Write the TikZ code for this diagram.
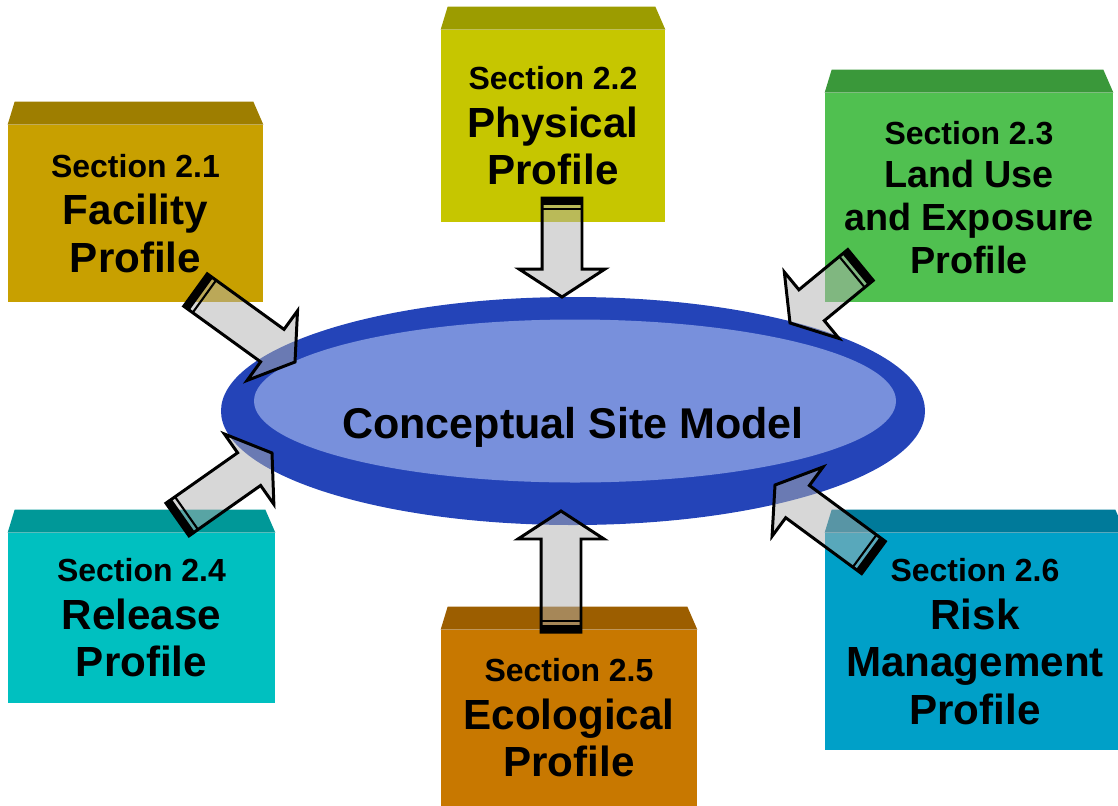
\documentclass[tikz,border=0pt]{standalone}
\usepackage[rgb]{xcolor}
\usepackage{fontspec}
\setmainfont{Liberation Sans}
\usepackage{tikz}
\usetikzlibrary{calc,shapes.geometric}

\definecolor{facilityfront}{HTML}{C8A000}
\definecolor{facilitytop}{HTML}{9E7E00}
\definecolor{physicalfront}{HTML}{C6C600}
\definecolor{physicaltop}{HTML}{9C9C00}
\definecolor{landusefront}{HTML}{50C050}
\definecolor{landusetop}{HTML}{3A983A}
\definecolor{releasefront}{HTML}{00C0C0}
\definecolor{releasetop}{HTML}{009898}
\definecolor{ecologicalfront}{HTML}{C87800}
\definecolor{ecologicaltop}{HTML}{9C5E00}
\definecolor{riskfront}{HTML}{00A0C8}
\definecolor{risktop}{HTML}{007A9A}
\definecolor{csmrim}{HTML}{2444B8}
\definecolor{csmface}{HTML}{7890DC}
\definecolor{arrowgray}{HTML}{B0B0B0}

\newcommand{\px}{0.02cm}
\newcommand{\sect}[1]{{\fontsize{18.2}{27}\selectfont #1}}

% darker lid on top of a profile box
\newcommand{\boxlid}[2]{%
\fill[#2] (#1.north west) -- ++(7,-23) -- ($(#1.north east)+(-10,-23)$) -- (#1.north east) -- cycle;}

% block arrow from tail #1 to tip #2
\newcommand{\profilearrow}[2]{%
\coordinate (neck) at ($(#2)!0.56cm!(#1)$);
\filldraw[arrowbody] ($(#1)!0.4cm!90:(#2)$) -- ($(neck)!0.4cm!90:(#2)$)
 -- ($(neck)!0.86cm!90:(#2)$) -- (#2) -- ($(neck)!0.86cm!-90:(#2)$)
 -- ($(neck)!0.4cm!-90:(#2)$) -- ($(#1)!0.4cm!-90:(#2)$) -- cycle;
\coordinate (band) at ($(#1)!0.07cm!(#2)$);
\draw[line width=4pt] ($(band)!0.42cm!90:(#2)$) -- ($(band)!0.42cm!-90:(#2)$);
\coordinate (stripe) at ($(#1)!0.22cm!(#2)$);
\draw[line width=1.2pt] ($(stripe)!0.4cm!90:(#2)$) -- ($(stripe)!0.4cm!-90:(#2)$);}

\begin{document}
\begin{tikzpicture}[x=0.02cm, y=-0.02cm,
 profile/.style={rectangle, inner sep=0pt, align=center,
   font=\fontsize{24}{27}\selectfont\bfseries},
 arrowbody/.style={fill=arrowgray, fill opacity=0.5, draw=black,
   line width=1.7pt, line join=miter}]

\useasboundingbox (0,0) rectangle (1118,805);

% the six profile boxes
\node[profile, fill=facilityfront, minimum width=255*\px, minimum height=177*\px]
 (facility) at (135.5,213.5) {\sect{Section 2.1}\\ Facility\\ Profile};
\boxlid{facility}{facilitytop}

\node[profile, fill=physicalfront, minimum width=224*\px, minimum height=192*\px]
 (physical) at (553,126) {\sect{Section 2.2}\\ Physical\\ Profile};
\boxlid{physical}{physicaltop}

\node[profile, fill=landusefront, minimum width=288*\px, minimum height=209*\px,
 font=\fontsize{21.5}{24.5}\selectfont\bfseries]
 (landuse) at (969,197.5) {\sect{Section 2.3}\\ Land Use\\ and Exposure\\ Profile};
\boxlid{landuse}{landusetop}

\node[profile, fill=releasefront, minimum width=267*\px, minimum height=170*\px]
 (release) at (141.5,618) {\sect{Section 2.4}\\ Release\\ Profile};
\boxlid{release}{releasetop}

\node[profile, fill=ecologicalfront, minimum width=256*\px, minimum height=176*\px]
 (ecological) at (569,718) {\sect{Section 2.5}\\ Ecological\\ Profile};
\boxlid{ecological}{ecologicaltop}

\node[profile, fill=riskfront, minimum width=300*\px, minimum height=217*\px]
 (risk) at (975,641.5) {\sect{Section 2.6}\\ Risk\\ Management\\ Profile};
\boxlid{risk}{risktop}

% the model disk
\node[ellipse, fill=csmrim, inner sep=0pt, minimum width=704*\px, minimum height=228*\px]
 (csm) at (573,411) {};
\node[ellipse, fill=csmface, inner sep=0pt, minimum width=642*\px, minimum height=163*\px]
 (csmface) at (575,401) {};
\node[anchor=base, font=\fontsize{24.5}{28}\selectfont\bfseries] (csmlabel) at (573,438)
 {Conceptual Site Model};

% arrow ends
\coordinate (facilityout) at (195.5,290);   \coordinate (facilityin) at (295,362);
\coordinate (physicalout) at (562,198);     \coordinate (physicalin) at (562,297);
\coordinate (landuseout) at (860.5,265);    \coordinate (landusein) at (790,323);
\coordinate (releaseout) at (177.5,519.5);  \coordinate (releasein) at (272,453);
\coordinate (ecologicalout) at (561,632);   \coordinate (ecologicalin) at (561,511);
\coordinate (riskout) at (873.5,557.5);     \coordinate (riskin) at (775,485);

\profilearrow{facilityout}{facilityin}
\profilearrow{physicalout}{physicalin}
\profilearrow{landuseout}{landusein}
\profilearrow{releaseout}{releasein}
\profilearrow{ecologicalout}{ecologicalin}
\profilearrow{riskout}{riskin}

\end{tikzpicture}
\end{document}
